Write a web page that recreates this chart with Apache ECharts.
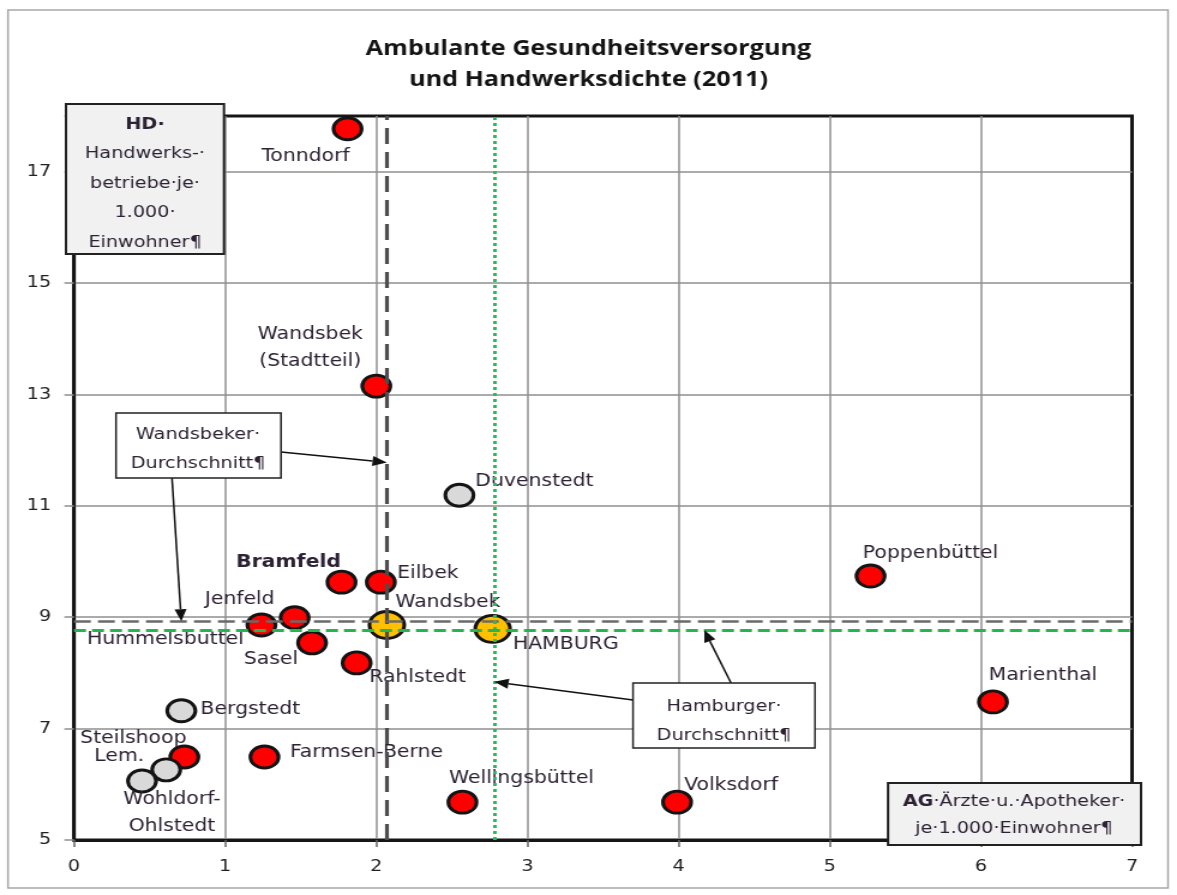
<!DOCTYPE html>
<html>
<head>
<meta charset="utf-8">
<script src="https://cdn.jsdelivr.net/npm/echarts@6/dist/echarts.min.js"></script>
<style>
html, body { margin: 0; padding: 0; background: #fff; overflow: hidden; }
#wrap { width: 1177px; height: 895px; overflow: hidden; }
#chart { width: 981px; height: 895px; transform: scaleX(1.19980); transform-origin: 0 0; }
</style>
</head>
<body>
<div id="wrap"><div id="chart"></div></div>
<script>
// AG = Ärzte u. Apotheker je 1.000 Einwohner (x), HD = Handwerksbetriebe je 1.000 Einwohner (y)
const redNames = ['Tonndorf', 'Wandsbek (Stadtteil)', 'Bramfeld', 'Eilbek', 'Poppenbüttel', 'Jenfeld',
  'Hummelsbüttel', 'Sasel', 'Rahlstedt', 'Marienthal', 'Steilshoop', 'Farmsen-Berne', 'Wellingsbüttel', 'Volksdorf'];
const redAG = [1.81, 2.00, 1.77, 2.03, 5.27, 1.46, 1.24, 1.575, 1.87, 6.08, 0.73, 1.26, 2.57, 3.99];
const redHD = [17.77, 13.15, 9.63, 9.63, 9.74, 8.99, 8.86, 8.54, 8.18, 7.48, 6.49, 6.49, 5.68, 5.68];

const greyNames = ['Duvenstedt', 'Bergstedt', 'Lemsahl-Mellingstedt', 'Wohldorf-Ohlstedt'];
const greyAG = [2.55, 0.71, 0.61, 0.45];
const greyHD = [11.19, 7.32, 6.26, 6.06];

const avgNames = ['Wandsbek', 'HAMBURG'];
const avgAG = [2.07, 2.77];
const avgHD = [8.86, 8.79];

// Durchschnittslinien: [Wandsbek, Hamburg]
const avgLineAG = [2.07, 2.78];
const avgLineHD = [8.93, 8.77];

const xTicks = [0, 1, 2, 3, 4, 5, 6, 7];
const yTicks = [5, 7, 9, 11, 13, 15, 17];

const SX = 1177 / 981;            // horizontal stretch of the drawing
const px = v => v / SX;           // page x -> canvas x

const labelText = {
  'Wandsbek (Stadtteil)': 'Wandsbek\n(Stadtteil)',
  'Lemsahl-Mellingstedt': 'Lem.',
  'Wohldorf-Ohlstedt': 'Wohldorf-\nOhlstedt'
};
// label centre offsets from the marker centre (page pixels)
const labelShift = {
  'Tonndorf': [-42, 28], 'Wandsbek (Stadtteil)': [-66, -38], 'Bramfeld': [-53, -20], 'Eilbek': [47, -9],
  'Poppenbüttel': [60, -22], 'Jenfeld': [-55, -18], 'Hummelsbüttel': [-96, 15], 'Sasel': [-41, 17],
  'Rahlstedt': [61, 15], 'Marienthal': [50, -26], 'Steilshoop': [-51, -18], 'Farmsen-Berne': [102, -4],
  'Wellingsbüttel': [59, -24], 'Volksdorf': [54, -17], 'Duvenstedt': [75, -14], 'Bergstedt': [69, -1],
  'Lemsahl-Mellingstedt': [-47, -13], 'Wohldorf-Ohlstedt': [30, 32], 'Wandsbek': [61, -22], 'HAMBURG': [73, 16]
};
const boldLabels = ['Bramfeld'];

const TXT = '#2c2233';
const FONT = 'DejaVu Sans';

function points(names, xs, ys) {
  return names.map((n, i) => {
    const s = labelShift[n] || [0, 0];
    return {
      name: n,
      value: [xs[i], ys[i]],
      label: {
        show: true,
        position: 'inside',
        offset: [px(s[0]), s[1]],
        formatter: labelText[n] || n,
        align: 'center',
        verticalAlign: 'middle',
        color: TXT,
        fontFamily: FONT,
        fontSize: 17,
        lineHeight: 27,
        fontWeight: boldLabels.includes(n) ? 'bold' : 'normal'
      }
    };
  });
}

const chart = echarts.init(document.getElementById('chart'), null, { renderer: 'canvas' });

const option = {
  animation: false,
  backgroundColor: '#ffffff',
  title: {
    text: 'Ambulante Gesundheitsversorgung\nund Handwerksdichte (2011)',
    left: 'center',
    top: 29,
    textStyle: { fontFamily: 'Open Sans', fontWeight: 'bold', fontSize: 21, lineHeight: 31, color: '#141414' }
  },
  grid: {
    left: px(74), right: 981 - px(1132), top: 116, bottom: 895 - 840,
    show: true, borderColor: '#161616', borderWidth: 3
  },
  xAxis: {
    type: 'value', min: 0, max: 7, interval: 1,
    axisLine: { show: true, lineStyle: { color: '#161616', width: 3 } },
    axisTick: { show: true, length: 7, lineStyle: { color: '#666', width: 1.5 } },
    axisLabel: {
      margin: 19, color: '#222', fontFamily: FONT, fontSize: 16,
      formatter: v => xTicks.includes(v) ? String(v) : ''
    },
    splitLine: { show: true, showMinLine: false, showMaxLine: false, lineStyle: { color: '#8f8f8f', width: 1.5 } }
  },
  yAxis: {
    type: 'value', min: 5, max: 18, interval: 2,
    axisLine: { show: true, lineStyle: { color: '#161616', width: 3 } },
    axisTick: { show: true, length: 8, lineStyle: { color: '#8f8f8f', width: 1.5 } },
    axisLabel: {
      margin: 19, color: '#222', fontFamily: FONT, fontSize: 16,
      formatter: v => yTicks.includes(v) ? String(v) : ''
    },
    splitLine: { show: true, showMinLine: false, showMaxLine: false, lineStyle: { color: '#8f8f8f', width: 1.5 } }
  },
  series: [
    {
      name: 'Stadtteile', type: 'scatter', z: 3,
      symbol: 'circle', symbolSize: [23.5, 22],
      itemStyle: { color: '#ff0000', borderColor: '#141414', borderWidth: 3, opacity: 1 },
      data: points(redNames, redAG, redHD)
    },
    {
      name: 'Walddörfer', type: 'scatter', z: 3,
      symbol: 'circle', symbolSize: [23.5, 22],
      itemStyle: { color: '#d9d9d9', borderColor: '#141414', borderWidth: 3, opacity: 1 },
      data: points(greyNames, greyAG, greyHD)
    },
    {
      name: 'Durchschnitt', type: 'scatter', z: 3,
      symbol: 'circle', symbolSize: [29, 27],
      itemStyle: { color: '#ffc000', borderColor: '#141414', borderWidth: 3, opacity: 1 },
      data: points(avgNames, avgAG, avgHD)
    },
    {
      name: 'Durchschnittslinien', type: 'scatter', z: 5, data: [],
      markLine: {
        silent: true, symbol: ['none', 'none'], animation: false,
        label: { show: false },
        data: [
          { xAxis: avgLineAG[0], lineStyle: { color: '#4d4d4d', width: 3.2, type: [16, 8] } },
          { yAxis: avgLineHD[0], lineStyle: { color: '#6a6a6a', width: 2.5, type: [14, 6] } },
          { xAxis: avgLineAG[1], lineStyle: { color: '#1fc257', width: 3, type: [3, 3] } },
          { yAxis: avgLineHD[1], lineStyle: { color: '#22b550', width: 3, type: [10, 5] } }
        ]
      }
    }
  ]
};

chart.setOption(option);

// annotation boxes and arrows
const toPx = (x, y) => chart.convertToPixel({ gridIndex: 0 }, [x, y]);

function arrow(from, to) {
  const dx = to[0] - from[0], dy = to[1] - from[1];
  const len = Math.hypot(dx, dy), ux = dx / len, uy = dy / len;
  const hl = 12, hw = 5;
  const bx = to[0] - ux * hl, by = to[1] - uy * hl;
  return [
    { type: 'line', z: 60, silent: true,
      shape: { x1: from[0], y1: from[1], x2: bx, y2: by },
      style: { stroke: '#111', lineWidth: 1.5 } },
    { type: 'polygon', z: 60, silent: true,
      shape: { points: [to, [bx - uy * hw, by + ux * hw], [bx + uy * hw, by - ux * hw]] },
      style: { fill: '#111' } }
  ];
}

function box(x0, y0, x1, y1, fill, lw) {
  return { type: 'rect', z: 70, silent: true,
    shape: { x: px(x0), y: y0, width: px(x1 - x0), height: y1 - y0 },
    style: { fill: fill, stroke: '#222', lineWidth: lw } };
}

function boxText(cx, top, text, lh, rich) {
  return { type: 'text', z: 71, silent: true, x: px(cx), y: top,
    style: { text: text, align: 'center', verticalAlign: 'top', fill: TXT,
      font: '16px "DejaVu Sans"', lineHeight: lh, rich: rich } };
}

const richBox = lh => ({
  b: { fontFamily: FONT, fontSize: 16, fontWeight: 'bold', color: '#221a28', lineHeight: lh },
  n: { fontFamily: FONT, fontSize: 16, color: TXT, lineHeight: lh }
});

const graphics = [
  { type: 'rect', z: -1, silent: true,
    shape: { x: px(8), y: 10, width: px(1160), height: 878 },
    style: { fill: 'none', stroke: '#a8a8a8', lineWidth: 1.5 } },

  box(66, 104, 224, 254, '#f1f1f1', 2),
  boxText(145, 110, '{b|HD·}\n{n|Handwerks-·}\n{n|betriebe·je·}\n{n|1.000·}\n{n|Einwohner¶}', 29.5, richBox(29.5)),

  box(888, 783, 1141, 845, '#f1f1f1', 2),
  boxText(1014, 788, '{b|AG}{n|·Ärzte·u.·Apotheker·}\n{n|je·1.000·Einwohner¶}', 27, richBox(27)),

  box(116, 413, 281, 478, '#ffffff', 1.5),
  boxText(198, 420, '{n|Wandsbeker·}\n{n|Durchschnitt¶}', 29, richBox(29)),

  box(633, 683, 815, 748, '#ffffff', 1.5),
  boxText(724, 693, '{n|Hamburger·}\n{n|Durchschnitt¶}', 28.5, richBox(28.5))
];

graphics.push(...arrow([px(281), 452], toPx(avgLineAG[0], 11.78)));
graphics.push(...arrow([px(172), 478], toPx(0.71, avgLineHD[0])));
graphics.push(...arrow([px(731), 683], toPx(4.17, avgLineHD[1])));
graphics.push(...arrow([px(633), 700], toPx(avgLineAG[1], 7.84)));

chart.setOption({ graphic: graphics });
</script>
</body>
</html>
